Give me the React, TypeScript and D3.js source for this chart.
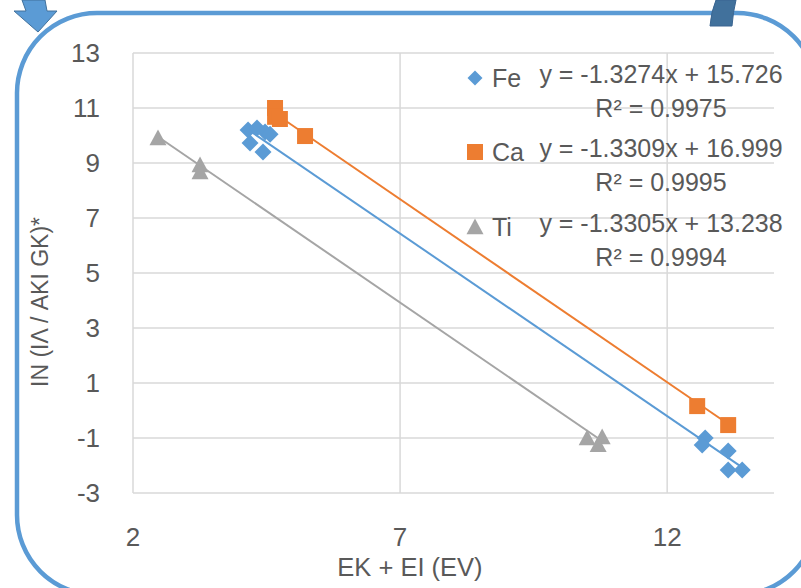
import React from "react";
import * as d3 from "d3";

const feX = [4.154, 4.322, 4.472, 4.566, 4.191, 4.434, 12.712, 12.656, 13.142, 13.142, 13.404];
const feY = [10.2, 10.27, 10.13, 10.05, 9.73, 9.4, -1.0, -1.25, -1.47, -2.16, -2.16];
const caX = [4.659, 4.66, 4.75, 5.221, 12.562, 13.142];
const caY = [11.0, 10.68, 10.6, 9.98, 0.16, -0.53];
const tiX = [2.468, 3.255, 3.255, 10.502, 10.783, 10.708];
const tiY = [9.91, 8.93, 8.67, -1.0, -0.96, -1.25];

const seriesNames = ["Fe", "Ca", "Ti"];
const slopes = [-1.3274, -1.3309, -1.3305];
const intercepts = [15.726, 16.999, 13.238];
const r2 = ["0.9975", "0.9995", "0.9994"];
const colors = ["#5B9BD5", "#ED7D31", "#A5A5A5"];

const yTicks = [-3, -1, 1, 3, 5, 7, 9, 11, 13];
const xTicks = [2, 7, 12];
const xTitle = "EK + EI (EV)";
const yTitle = "IN (IΛ / AKI GK)*";

const W = 801;
const H = 588;
const FONT = "'Liberation Sans', Arial, sans-serif";
const TXT = "#595959";

function marker(kind: number, cx: number, cy: number, s: number) {
  if (kind === 0) {
    return `M${cx},${cy - s}L${cx + s},${cy}L${cx},${cy + s}L${cx - s},${cy}Z`;
  }
  if (kind === 1) {
    return `M${cx - s},${cy - s}H${cx + s}V${cy + s}H${cx - s}Z`;
  }
  return `M${cx},${cy - s}L${cx + s},${cy + s * 0.85}L${cx - s},${cy + s * 0.85}Z`;
}

export default function App() {
  const x = d3.scaleLinear().domain([2, 14]).range([133, 774]);
  const y = d3.scaleLinear().domain([-3, 13]).range([493, 53]);
  const data = [
    { xs: feX, ys: feY },
    { xs: caX, ys: caY },
    { xs: tiX, ys: tiY },
  ];
  const sizes = [8.5, 8, 8.5];
  const line = d3
    .line<number>()
    .x((d) => d[0] as any)
    .y((d) => d[1] as any);

  return (
    <svg
      width={W}
      height={H}
      style={{ position: "absolute", left: 0, top: 0, display: "block", background: "#fff" }}
      fontFamily={FONT}
    >
      <rect x={0} y={0} width={W} height={H} fill="#fff" />
      {/* rounded frame */}
      <rect x={17} y={13} width={800} height={582} rx={80} ry={80} fill="none" stroke="#5B9BD5" strokeWidth={4.5} />
      {/* gridlines */}
      {yTicks.map((t) => (
        <line key={"h" + t} x1={x(2)} x2={x(14)} y1={y(t)} y2={y(t)} stroke="#D9D9D9" strokeWidth={1.5} />
      ))}
      {xTicks.map((t) => (
        <line key={"v" + t} x1={x(t)} x2={x(t)} y1={y(-3)} y2={y(13)} stroke="#D9D9D9" strokeWidth={1.5} />
      ))}
      {/* tick labels */}
      {yTicks.map((t) => (
        <text key={"yt" + t} x={100} y={y(t)} dy="0.35em" textAnchor="end" fontSize={26} fill={TXT}>
          {t}
        </text>
      ))}
      {xTicks.map((t) => (
        <text key={"xt" + t} x={x(t)} y={546} textAnchor="middle" fontSize={26} fill={TXT}>
          {t}
        </text>
      ))}
      {/* axis titles */}
      <text x={410} y={576} textAnchor="middle" fontSize={25.5} fill={TXT}>
        {xTitle}
      </text>
      <text
        transform={`translate(48,302) rotate(-90)`}
        textAnchor="middle"
        fontSize={23}
        fill={TXT}
      >
        {yTitle}
      </text>
      {/* trendlines */}
      {data.map((s, i) => {
        const x0 = d3.min(s.xs) as number;
        const x1 = d3.max(s.xs) as number;
        const pts: [number, number][] = [x0, x1].map((v) => [x(v), y(slopes[i] * v + intercepts[i])]);
        return <path key={"tl" + i} d={line(pts as any) || ""} stroke={colors[i]} strokeWidth={2} fill="none" />;
      })}
      {/* markers */}
      {data.map((s, i) =>
        s.xs.map((v, j) => (
          <path key={"m" + i + "-" + j} d={marker(i, x(v), y(s.ys[j]), sizes[i])} fill={colors[i]} />
        ))
      )}
      {/* legend */}
      {seriesNames.map((n, i) => {
        const ly = [78, 152, 227][i];
        return (
          <g key={"lg" + n}>
            <path d={marker(i, 475, ly, i === 0 ? 7.5 : i === 1 ? 8 : 8.5)} fill={colors[i]} />
            <text x={492} y={ly + 9} fontSize={25} fill={TXT}>
              {n}
            </text>
            <text x={661} y={ly + 5} textAnchor="middle" fontSize={25} fill={TXT}>
              {`y = ${slopes[i]}x + ${intercepts[i].toFixed(3)}`}
            </text>
            <text x={661} y={ly + 39} textAnchor="middle" fontSize={25} fill={TXT}>
              {`R² = ${r2[i]}`}
            </text>
          </g>
        );
      })}
      {/* decorative arrows */}
      <path d="M22,0 L45,0 L47,11 L57,11 L38,32 L14,11 L26,11 Z" fill="#5B9BD5" stroke="#41719C" strokeWidth={1} />
      <path d="M716,0 Q711,12 710,26 L732,26 Q733,12 736,0 Z" fill="#41719C" stroke="#3A6591" strokeWidth={1} />
    </svg>
  );
}
